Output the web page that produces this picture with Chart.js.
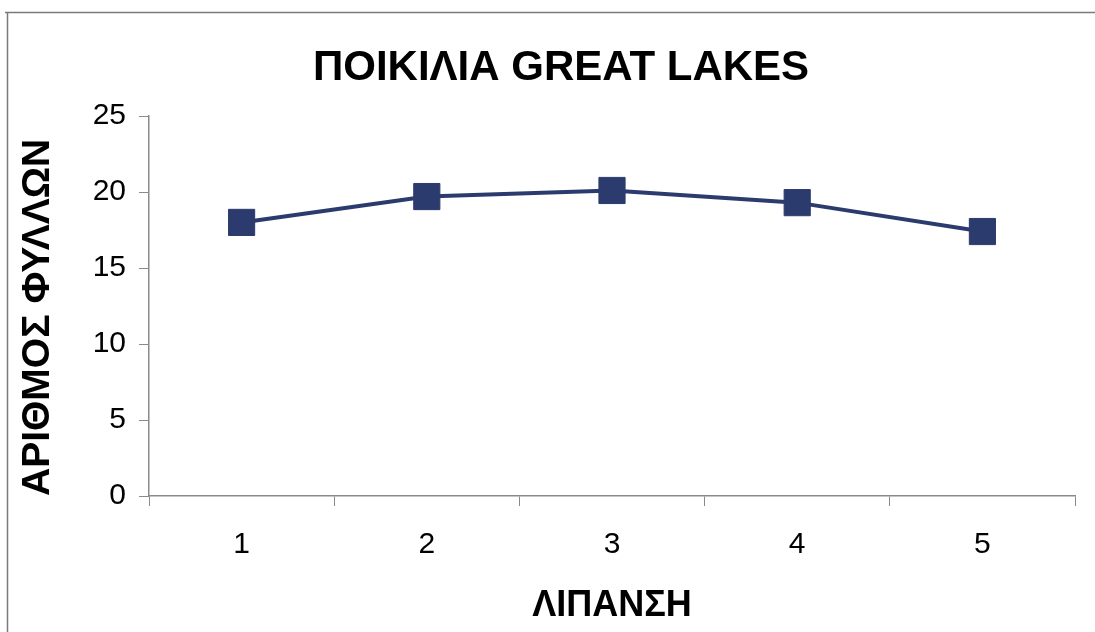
<!DOCTYPE html>
<html>
<head>
<meta charset="utf-8">
<script src="https://cdn.jsdelivr.net/npm/chart.js@4.4.1/dist/chart.umd.min.js"></script>
<style>
  html, body { margin: 0; padding: 0; background: #ffffff; }
  #wrap { width: 1095px; height: 632px; position: relative; }
</style>
</head>
<body>
<div id="wrap"><canvas id="chart" width="1095" height="632"></canvas></div>
<script>
// Fertilisation levels and mean leaf count per plant
const categories = ['1', '2', '3', '4', '5'];
const leafCounts = [18.0, 19.7, 20.1, 19.3, 17.4];
const yTicks = [0, 5, 10, 15, 20, 25];

const chartTitle = 'ΠΟΙΚΙΛΙΑ GREAT LAKES';
const xTitle = 'ΛΙΠΑΝΣΗ';
const yTitle = 'ΑΡΙΘΜΟΣ ΦΥΛΛΩΝ';

const navy = '#2c3b6d';
const axisGray = '#8a8a8a';
const fontFamily = '"Liberation Sans", Arial, sans-serif';

// Thin frame along the top and left edges, plus the heading above the plot
const framePlugin = {
  id: 'frame',
  beforeDraw(chart) {
    const ctx = chart.ctx;
    ctx.save();
    ctx.fillStyle = '#ffffff';
    ctx.fillRect(0, 0, chart.width, chart.height);
    ctx.strokeStyle = '#7a7a7a';
    ctx.lineWidth = 1.5;
    ctx.beginPath();
    ctx.moveTo(5, 12.5);
    ctx.lineTo(chart.width, 12.5);
    ctx.moveTo(7.5, 12);
    ctx.lineTo(7.5, chart.height);
    ctx.stroke();
    ctx.restore();
  },
  afterDraw(chart) {
    const ctx = chart.ctx;
    ctx.save();
    ctx.fillStyle = '#000000';
    ctx.font = 'bold 42px ' + fontFamily;
    ctx.textAlign = 'center';
    ctx.textBaseline = 'alphabetic';
    ctx.fillText(chartTitle, 561, 79.5);
    ctx.restore();
  }
};

new Chart(document.getElementById('chart'), {
  type: 'line',
  data: {
    labels: categories,
    datasets: [{
      data: leafCounts,
      borderColor: navy,
      backgroundColor: navy,
      borderWidth: 4,
      pointStyle: 'rect',
      pointRadius: 18.5,
      pointHoverRadius: 18.5,
      pointBorderWidth: 1,
      pointBorderColor: navy,
      pointBackgroundColor: navy,
      tension: 0,
      fill: false
    }]
  },
  options: {
    responsive: false,
    animation: false,
    devicePixelRatio: 1,
    layout: { padding: { left: 0, right: 20, top: 116, bottom: 0 } },
    plugins: {
      legend: { display: false },
      tooltip: { enabled: false },
      title: { display: false }
    },
    scales: {
      x: {
        type: 'category',
        offset: true,
        grid: {
          display: true,
          offset: true,
          drawOnChartArea: false,
          drawTicks: true,
          tickLength: 10,
          color: axisGray,
          lineWidth: 1
        },
        border: { display: true, color: axisGray, width: 1.5 },
        ticks: {
          color: '#000000',
          padding: 21,
          font: { family: fontFamily, size: 30 }
        },
        title: {
          display: true,
          text: xTitle,
          color: '#000000',
          font: { family: fontFamily, size: 36, weight: 'bold', lineHeight: 1.2 },
          padding: { top: 4, bottom: 4 }
        },
        afterFit(scale) { scale.height = 136; }
      },
      y: {
        min: 0,
        max: 25,
        afterBuildTicks(scale) { scale.ticks = yTicks.map(v => ({ value: v })); },
        grid: {
          display: true,
          drawOnChartArea: false,
          drawTicks: true,
          tickLength: 10,
          color: axisGray,
          lineWidth: 1
        },
        border: { display: true, color: axisGray, width: 1.5 },
        ticks: {
          color: '#000000',
          padding: 13,
          font: { family: fontFamily, size: 30 }
        },
        title: {
          display: true,
          text: yTitle,
          align: 'start',
          color: '#000000',
          font: { family: fontFamily, size: 39, weight: 'bold', lineHeight: 1.2 },
          padding: { top: 15, bottom: 4 }
        },
        afterFit(scale) { scale.width = 149; }
      }
    }
  },
  plugins: [framePlugin]
});
</script>
</body>
</html>
